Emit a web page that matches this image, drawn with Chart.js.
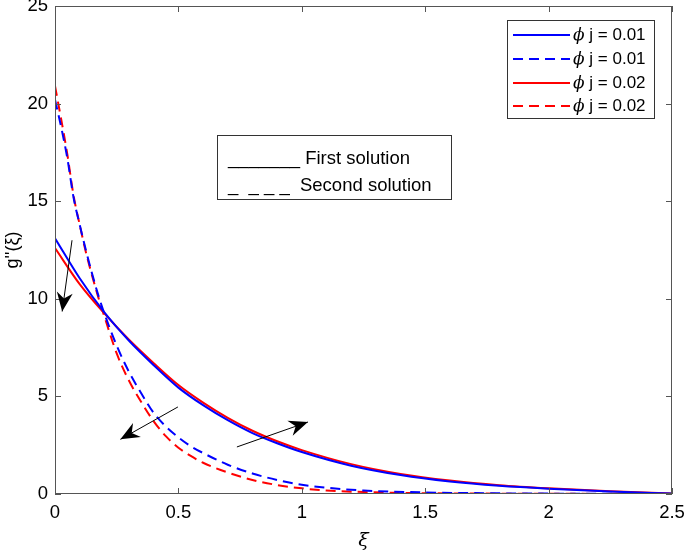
<!DOCTYPE html>
<html>
<head>
<meta charset="utf-8">
<script src="https://cdn.jsdelivr.net/npm/chart.js@4.4.0/dist/chart.umd.min.js"></script>
<style>
  html, body { margin: 0; padding: 0; background: #fff; }
</style>
</head>
<body>
<canvas id="chart" width="685" height="554"></canvas>
<script>
// values
const xiSolid = [0, 0.1, 0.2, 0.3, 0.4, 0.5, 0.6, 0.7, 0.8, 0.9, 1.0, 1.2, 1.4, 1.6, 1.8, 2.0, 2.25, 2.5];
const blueSolid = [13.1, 11.05, 9.3, 7.85, 6.6, 5.45, 4.55, 3.78, 3.12, 2.6, 2.15, 1.45, 0.97, 0.64, 0.42, 0.27, 0.13, 0.02];
const redSolid = [12.6, 10.75, 9.25, 7.9, 6.7, 5.58, 4.68, 3.9, 3.24, 2.7, 2.25, 1.53, 1.03, 0.69, 0.45, 0.29, 0.14, 0.02];

const xiDashed = [0, 0.025, 0.05, 0.075, 0.1, 0.125, 0.15, 0.175, 0.2, 0.25, 0.3, 0.35, 0.4, 0.45, 0.5, 0.55, 0.6, 0.7, 0.8, 0.9, 1.0, 1.1, 1.25, 1.5, 1.75, 2.0, 2.5];
const blueDashed = [20.2, 18.8, 17.2, 15.2, 13.8, 12.5, 11.3, 10.2, 9.25, 7.6, 6.25, 5.15, 4.15, 3.45, 2.9, 2.45, 2.1, 1.5, 1.05, 0.72, 0.47, 0.32, 0.18, 0.08, 0.04, 0.02, 0];
const redDashed = [20.9, 19.2, 17.4, 15.3, 13.8, 12.4, 11.2, 10.1, 9.1, 7.2, 5.8, 4.7, 3.72, 2.95, 2.37, 1.95, 1.6, 1.1, 0.72, 0.46, 0.29, 0.18, 0.1, 0.04, 0.02, 0.01, 0];

const seriesLabels = ['j = 0.01', 'j = 0.01', 'j = 0.02', 'j = 0.02'];
const xTicks = [0, 0.5, 1, 1.5, 2, 2.5];
const xTickLabels = ['0', '0.5', '1', '1.5', '2', '2.5'];
const yTicks = [0, 5, 10, 15, 20, 25];

// arrows [x1, y1, x2, y2] in data units, head at the second point
const arrows = [
    [0.069, 13.0, 0.029, 9.35],
    [0.498, 4.46, 0.265, 2.8],
    [0.737, 2.41, 1.025, 3.69]
];

const FONT = 'Liberation Sans, Arial, Helvetica, sans-serif';
const FS = 18.5;

function toPoints(xs, ys) {
    return xs.map((x, i) => ({ x: x, y: ys[i] }));
}

const lineStyles = [
    { color: '#0000ff', dash: [] },
    { color: '#0000ff', dash: [10, 6] },
    { color: '#ff0000', dash: [] },
    { color: '#ff0000', dash: [10, 6] }
];
const seriesData = [
    toPoints(xiSolid, blueSolid),
    toPoints(xiDashed, blueDashed),
    toPoints(xiSolid, redSolid),
    toPoints(xiDashed, redDashed)
];

const datasets = seriesData.map((d, i) => ({
    label: seriesLabels[i],
    data: d,
    borderColor: lineStyles[i].color,
    borderDash: lineStyles[i].dash,
    borderWidth: 2,
    pointRadius: 0,
    fill: false,
    cubicInterpolationMode: 'monotone'
}));

function drawHead(ctx, x1, y1, x2, y2) {
    const dx = x2 - x1, dy = y2 - y1;
    const len = Math.sqrt(dx * dx + dy * dy);
    const ux = dx / len, uy = dy / len;
    const nx = -uy, ny = ux;
    const L = 19, W = 8, notch = 6;
    ctx.beginPath();
    ctx.moveTo(x2, y2);
    ctx.lineTo(x2 - L * ux + W * nx, y2 - L * uy + W * ny);
    ctx.lineTo(x2 - (L - notch) * ux, y2 - (L - notch) * uy);
    ctx.lineTo(x2 - L * ux - W * nx, y2 - L * uy - W * ny);
    ctx.closePath();
    ctx.fill();
}

const decorations = {
    id: 'decorations',
    afterDatasetsDraw(chart) {
        const ctx = chart.ctx;
        const a = chart.chartArea;
        const xs = chart.scales.x, ys = chart.scales.y;
        ctx.save();

        // axes box with inward ticks
        ctx.strokeStyle = '#555';
        ctx.lineWidth = 1;
        ctx.strokeRect(a.left + 0.5, a.top + 0.5, a.right - a.left - 1, a.bottom - a.top - 1);
        ctx.beginPath();
        xTicks.forEach(t => {
            const px = Math.round(xs.getPixelForValue(t)) + 0.5;
            ctx.moveTo(px, a.bottom); ctx.lineTo(px, a.bottom - 6);
            ctx.moveTo(px, a.top); ctx.lineTo(px, a.top + 6);
        });
        yTicks.forEach(t => {
            const py = Math.round(ys.getPixelForValue(t)) + 0.5;
            ctx.moveTo(a.left, py); ctx.lineTo(a.left + 6, py);
            ctx.moveTo(a.right, py); ctx.lineTo(a.right - 6, py);
        });
        ctx.stroke();

        // arrows
        ctx.strokeStyle = '#000';
        ctx.fillStyle = '#000';
        ctx.lineWidth = 1;
        arrows.forEach(r => {
            const x1 = xs.getPixelForValue(r[0]), y1 = ys.getPixelForValue(r[1]);
            const x2 = xs.getPixelForValue(r[2]), y2 = ys.getPixelForValue(r[3]);
            ctx.beginPath();
            ctx.moveTo(x1, y1);
            ctx.lineTo(x2, y2);
            ctx.stroke();
            drawHead(ctx, x1, y1, x2, y2);
        });

        // legend box
        ctx.fillStyle = '#fff';
        ctx.fillRect(507, 20, 148, 98);
        ctx.strokeStyle = '#333';
        ctx.strokeRect(507.5, 20.5, 147, 98);
        const rowY = [35, 59, 83, 106];
        chart.data.datasets.forEach((ds, i) => {
            ctx.strokeStyle = ds.borderColor;
            ctx.lineWidth = 2;
            ctx.setLineDash(ds.borderDash);
            ctx.beginPath();
            ctx.moveTo(513, rowY[i]);
            ctx.lineTo(570, rowY[i]);
            ctx.stroke();
            ctx.setLineDash([]);
            ctx.fillStyle = '#000';
            ctx.textBaseline = 'middle';
            ctx.textAlign = 'left';
            ctx.font = 'italic 17px DejaVu Serif';
            ctx.fillText('\u03D5', 573, rowY[i] + 1);
            const w = ctx.measureText('\u03D5').width;
            ctx.font = '17px ' + FONT;
            ctx.fillText(' ' + ds.label, 573 + w, rowY[i]);
        });

        // solution type box
        ctx.strokeStyle = '#333';
        ctx.lineWidth = 1;
        ctx.strokeRect(217.5, 135.5, 234, 64);
        ctx.fillStyle = '#000';
        ctx.font = FS + 'px ' + FONT;
        ctx.textBaseline = 'middle';
        ctx.fillText('_______ First solution', 228, 159);
        ctx.fillText('_  _ _ _  Second solution', 228, 186);

        ctx.restore();
    }
};

function noPad(s) {
    s.paddingTop = 0; s.paddingBottom = 0; s.paddingLeft = 0; s.paddingRight = 0;
}

new Chart(document.getElementById('chart'), {
    type: 'line',
    data: { datasets: datasets },
    plugins: [decorations],
    options: {
        responsive: false,
        animation: false,
        layout: { autoPadding: false, padding: { left: 0, right: 13, top: 6, bottom: 0 } },
        plugins: { legend: { display: false }, tooltip: { enabled: false } },
        scales: {
            x: {
                type: 'linear',
                min: 0,
                max: 2.5,
                afterFit: s => { s.height = 60; noPad(s); },
                afterBuildTicks: s => { s.ticks = xTicks.map(v => ({ value: v })); },
                grid: { display: false, drawTicks: false },
                border: { display: false },
                ticks: {
                    color: '#000', padding: 8, maxRotation: 0,
                    font: { family: FONT, size: FS },
                    callback: (v, i) => xTickLabels[i]
                },
                title: { display: true, text: '\u03BE', color: '#000', padding: { top: 0, bottom: 2 }, font: { family: 'DejaVu Serif', size: 19, style: 'italic' } }
            },
            y: {
                min: 0,
                max: 25,
                afterFit: s => { s.width = 55; noPad(s); },
                afterBuildTicks: s => { s.ticks = yTicks.map(v => ({ value: v })); },
                grid: { display: false, drawTicks: false },
                border: { display: false },
                ticks: { color: '#000', padding: 7, font: { family: FONT, size: FS } },
                title: { display: true, text: "g''(\u03BE)", color: '#000', padding: { top: 2, bottom: 0 }, font: { family: FONT, size: 18 } }
            }
        }
    }
});
</script>
</body>
</html>
